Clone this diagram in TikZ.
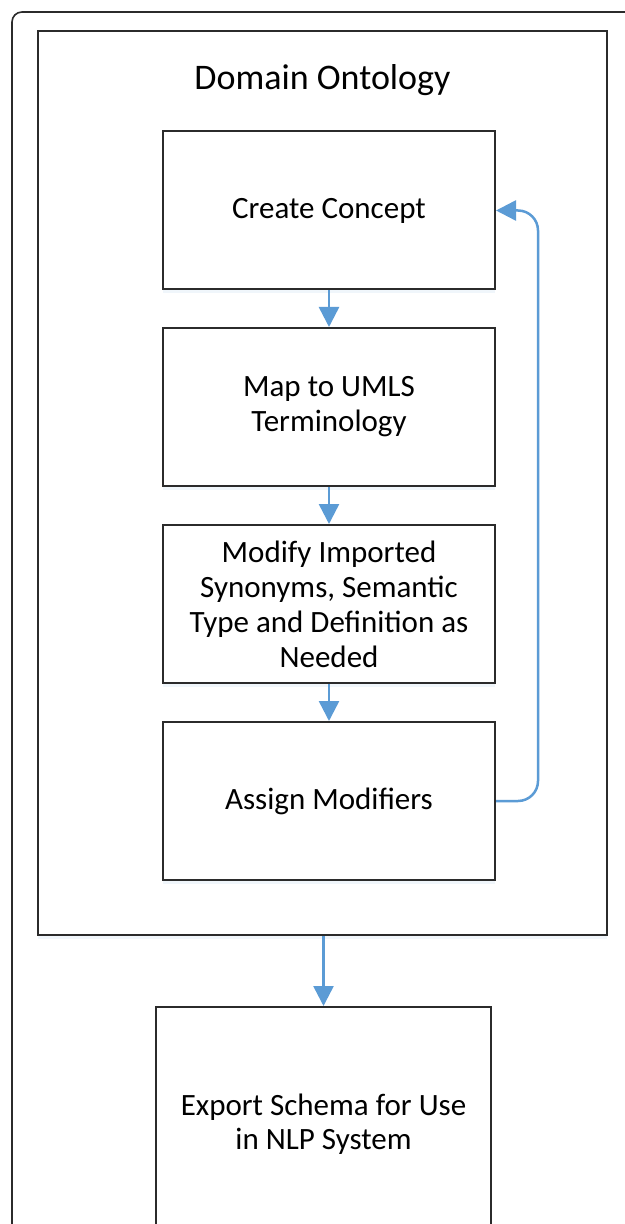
\documentclass[tikz,border=0pt]{standalone}
\usepackage{fontspec}
\setmainfont{Carlito}
\usetikzlibrary{arrows.meta}
\usetikzlibrary{shadows}
\definecolor{flowblue}{HTML}{5B9BD5}
\definecolor{boxline}{HTML}{2B2B2B}
\tikzset{
	stepbox/.style = {draw=boxline, line width=1pt, fill=white, minimum width=166pt, minimum height=79pt, align=center, font=\fontsize{15.5}{17.5}\selectfont, drop shadow={shadow xshift=0pt, shadow yshift=-2pt, fill=flowblue!25, opacity=0.35}},
	flow/.style = {draw=flowblue, line width=1.25pt, -{Triangle[width=10pt,length=10pt]}}
}

\begin{document}
\begin{tikzpicture}[x=0.5pt, y=-0.5pt]
		\useasboundingbox (0,0) rectangle (625,1224);
		\clip (0,0) rectangle (625,1224);
		\draw [boxline, line width=0.8pt, rounded corners=5pt] (12,12) rectangle (660,1260);
		%
		\node (O)[stepbox, minimum width=284.5pt, minimum height=452pt] at (322.5,483){};
		\node (T)[anchor=base] at (322.5,90) {\fontsize{18}{21}\selectfont Domain Ontology};
		%
		\node (C)[stepbox] at (329,210.5){Create Concept};
		\node (M)[stepbox] at (329,407){Map to UMLS\\Terminology};
		\node (D)[stepbox] at (329,604){Modify Imported\\Synonyms, Semantic\\Type and Definition as\\Needed};
		\node (A)[stepbox] at (329,801){Assign Modifiers};
		%
		\node (E)[stepbox, minimum width=167.5pt, minimum height=150pt, anchor=north] at (323.5,1006){};
		\node (L)[align=center, font=\fontsize{15.5}{17}\selectfont] at (323.5,1124){Export Schema for Use\\in NLP System};
		%
		\draw [flow] (C) -- (M);
		\draw [flow] (M) -- (D);
		\draw [flow] (D) -- (A);
		\draw [flow, rounded corners=10pt] (A.east) -- ++(42,0) |- (C.east);
		\draw [flow] (E.north |- O.south) -- (E.north);
	\end{tikzpicture}
\end{document}
